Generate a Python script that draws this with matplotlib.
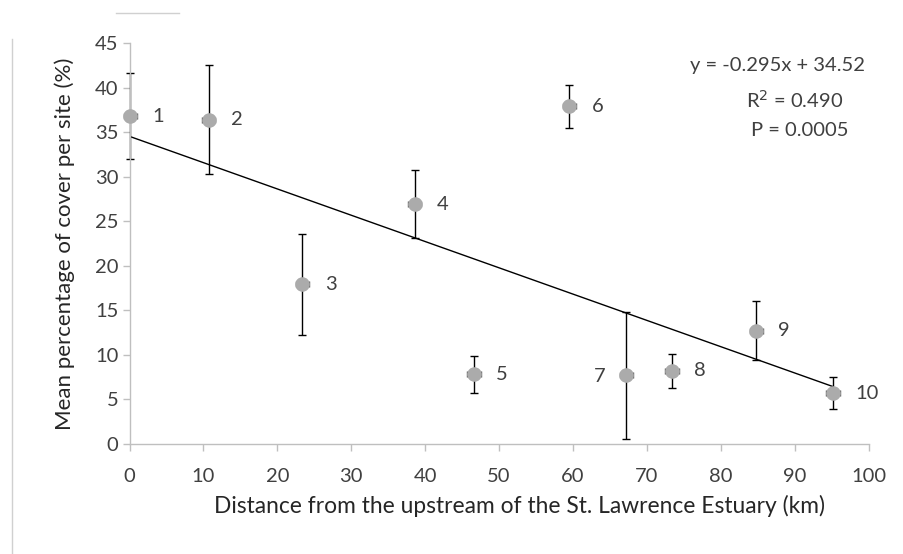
import numpy as np
import matplotlib.pyplot as plt
from matplotlib.lines import Line2D

# Distance from upstream (km), mean cover (%) and error per site
site = ['1', '2', '3', '4', '5', '6', '7', '8', '9', '10']
distance = [0.1, 10.7, 23.4, 38.6, 46.6, 59.5, 67.2, 73.4, 84.8, 95.2]
cover = [36.8, 36.4, 17.9, 26.9, 7.8, 37.9, 7.7, 8.2, 12.7, 5.7]
cover_err = [4.8, 6.1, 5.7, 3.8, 2.1, 2.4, 7.1, 1.9, 3.3, 1.8]

SLOPE = -0.295
INTERCEPT = 34.52
R2 = 0.490
P_VALUE = 0.0005

TEXT_COLOR = '#404040'
AXIS_COLOR = '#bfbfbf'
FONT_SIZE = 14.5

plt.rcParams['font.family'] = ['Lato', 'DejaVu Sans']

fig = plt.figure(figsize=(9.04, 5.54), dpi=100)
ax = fig.add_axes([0.1433, 0.1986, 0.8175, 0.7238])

# Vertical error bars
ax.errorbar(
    distance,
    cover,
    yerr=cover_err,
    fmt='none',
    ecolor='black',
    elinewidth=1,
    capsize=3,
    capthick=1,
    clip_on=False,
    zorder=2)

# Small horizontal bars either side of the markers
ax.errorbar(
    distance,
    cover,
    xerr=0.9,
    fmt='none',
    ecolor='#555555',
    elinewidth=0,
    capsize=2.5,
    capthick=1,
    clip_on=False,
    zorder=3)

ax.plot(
    distance,
    cover,
    'o',
    ms=9.5,
    color='#ababab',
    mec='#ababab',
    clip_on=False,
    zorder=4)

# Linear fit
fit_x = np.array([0, max(distance)])
ax.plot(
    fit_x,
    SLOPE * fit_x + INTERCEPT,
    lw=1,
    color='black',
    zorder=1)

# Site numbers next to each point
for name, x, y in zip(site, distance, cover):
    if name == '7':
        ax.annotate(name, (x, y), xytext=(-15, -1), textcoords='offset points',
                    ha='right', va='center', fontsize=FONT_SIZE, color=TEXT_COLOR)
    else:
        ax.annotate(name, (x, y), xytext=(16, 0), textcoords='offset points',
                    ha='left', va='center', fontsize=FONT_SIZE, color=TEXT_COLOR)

# Fit statistics
ax.text(0.995, 0.945, f'y = {SLOPE:.3f}x + {INTERCEPT:.2f}', transform=ax.transAxes,
        ha='right', va='center', fontsize=FONT_SIZE, color=TEXT_COLOR)
ax.text(0.90, 0.858, f'R$^2$ = {R2:.3f}', transform=ax.transAxes,
        ha='center', va='center', fontsize=FONT_SIZE, color=TEXT_COLOR)
ax.text(0.907, 0.783, f'P = {P_VALUE:.4f}', transform=ax.transAxes,
        ha='center', va='center', fontsize=FONT_SIZE, color=TEXT_COLOR)

ax.set_xlim(0, 100)
ax.set_ylim(0, 45)
ax.set_xticks(np.arange(0, 101, 10))
ax.set_yticks(np.arange(0, 46, 5))

for side in ['top', 'right']:
    ax.spines[side].set_visible(False)
for side in ['left', 'bottom']:
    ax.spines[side].set_color(AXIS_COLOR)
    ax.spines[side].set_linewidth(1)

ax.tick_params(axis='both', colors=AXIS_COLOR, labelcolor=TEXT_COLOR,
               labelsize=FONT_SIZE, length=5, width=1, direction='out')
ax.tick_params(axis='x', pad=12)
ax.tick_params(axis='y', pad=3)

ax.set_xlabel('Distance from the upstream of the St. Lawrence Estuary (km)',
              fontsize=16.4, color='#262626')
ax.xaxis.set_label_coords(0.527, -0.128)
ax.set_ylabel('Mean percentage of cover per site (%)',
              fontsize=16, color='#262626', labelpad=14)

# Faint frame edges
fig.add_artist(Line2D([0.013, 0.013], [0.0, 0.93], transform=fig.transFigure,
                      color='#d0d0d0', lw=1))
fig.add_artist(Line2D([0.128, 0.198], [0.976, 0.976], transform=fig.transFigure,
                      color='#d0d0d0', lw=1))

fig.savefig('out.png', dpi=100)
